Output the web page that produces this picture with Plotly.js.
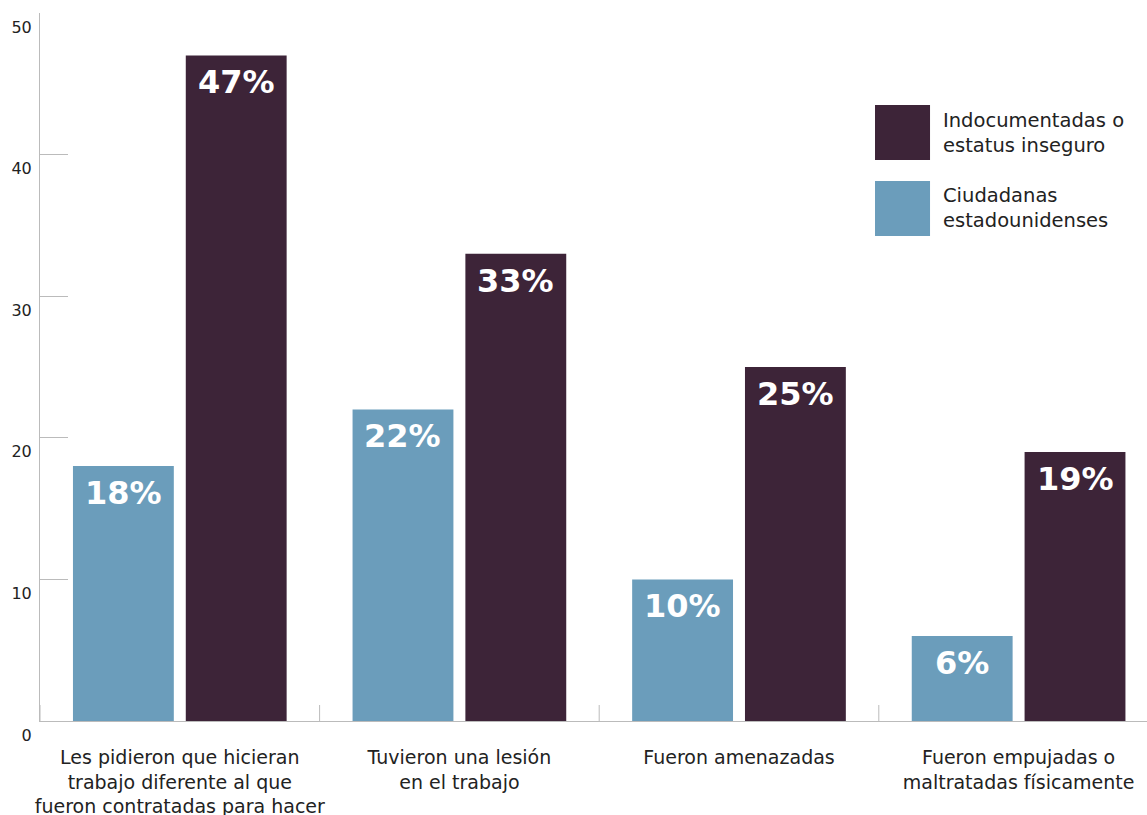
<!DOCTYPE html>
<html>
<head>
<meta charset="utf-8">
<script src="https://cdn.plot.ly/plotly-3.0.1.min.js"></script>
<style>html,body{margin:0;padding:0;background:#fff;}#chart{width:1147px;height:815px;}</style>
</head>
<body>
<div id="chart"></div>
<script>
const categories = [
  "Les pidieron que hicieran<br>trabajo diferente al que<br>fueron contratadas para hacer",
  "Tuvieron una lesión<br>en el trabajo",
  "Fueron amenazadas",
  "Fueron empujadas o<br>maltratadas físicamente"
];
const citizens = [18, 22, 10, 6];
const undocumented = [47, 33, 25, 19];
const seriesNames = ["Ciudadanas<br>estadounidenses", "Indocumentadas o<br>estatus inseguro"];
const yTicks = [0, 10, 20, 30, 40, 50];

const BLUE = "#6b9dbb";
const DARK = "#3d2438";
const AXIS = "#bbbbbb";
const FONT = "'DejaVu Sans', sans-serif";
const idx = categories.map((_, i) => i);

const traces = [
  {type: "bar", x: idx, y: citizens, name: seriesNames[0], marker: {color: BLUE}, hoverinfo: "skip"},
  {type: "bar", x: idx, y: undocumented, name: seriesNames[1], marker: {color: DARK}, hoverinfo: "skip"}
];

const UNIT = 279.6;
const OFF = 56.5 / UNIT;
const annotations = [];
const labelFont = {family: FONT, size: 32, color: "#ffffff", weight: 700};
citizens.forEach((v, i) => annotations.push({
  x: i - OFF, y: v, xref: "x", yref: "y", text: v + "%", showarrow: false,
  yanchor: "top", xanchor: "center", yshift: -6, font: labelFont
}));
undocumented.forEach((v, i) => annotations.push({
  x: i + OFF, y: v, xref: "x", yref: "y", text: v + "%", showarrow: false,
  yanchor: "top", xanchor: "center", yshift: -6, font: labelFont
}));
// legend text
annotations.push({xref: "paper", yref: "paper", x: 0.8139, y: 0.8312, xanchor: "left", yanchor: "middle",
  text: seriesNames[1], showarrow: false, align: "left", font: {family: FONT, size: 19.5, color: "#222"}});
annotations.push({xref: "paper", yref: "paper", x: 0.8139, y: 0.7239, xanchor: "left", yanchor: "middle",
  text: seriesNames[0], showarrow: false, align: "left", font: {family: FONT, size: 19.5, color: "#222"}});

const shapes = [
  {type: "rect", xref: "paper", yref: "paper", x0: 0.7543, x1: 0.8040, y0: 0.7924, y1: 0.8701, fillcolor: DARK, line: {width: 0}},
  {type: "rect", xref: "paper", yref: "paper", x0: 0.7543, x1: 0.8040, y0: 0.6850, y1: 0.7627, fillcolor: BLUE, line: {width: 0}}
];
// category boundary ticks (inside, upward from the x axis)
idx.forEach(i => shapes.push({
  type: "line", xref: "x", yref: "paper", x0: i - 0.5, x1: i - 0.5,
  ysizemode: "pixel", yanchor: 0, y0: 0, y1: 16, line: {color: AXIS, width: 1}
}));

const xr = [-0.5, -0.5 + 1107 / UNIT];
const layout = {
  width: 1147, height: 815,
  margin: {l: 40, r: 0, t: 13, b: 94},
  paper_bgcolor: "#fff", plot_bgcolor: "#fff",
  showlegend: false,
  barmode: "group", bargap: 0.193, bargroupgap: 0.106,
  font: {family: FONT, color: "#222"},
  xaxis: {
    range: xr, tickvals: idx, ticktext: categories, ticks: "",
    showline: true, linecolor: AXIS, linewidth: 1, showgrid: false, zeroline: false,
    tickfont: {family: FONT, size: 19, color: "#222"}, ticklabelstandoff: 19, fixedrange: true
  },
  yaxis: {
    range: [0, 50], tickvals: yTicks, ticks: "inside", ticklen: 28, tickcolor: AXIS,
    showline: true, linecolor: AXIS, linewidth: 1, showgrid: false, zeroline: false,
    tickfont: {family: FONT, size: 16, color: "#222"}, ticklabelshift: 14, ticklabelstandoff: 4
  },
  annotations: annotations,
  shapes: shapes
};

Plotly.newPlot("chart", traces, layout, {displayModeBar: false, staticPlot: true});
</script>
</body>
</html>
